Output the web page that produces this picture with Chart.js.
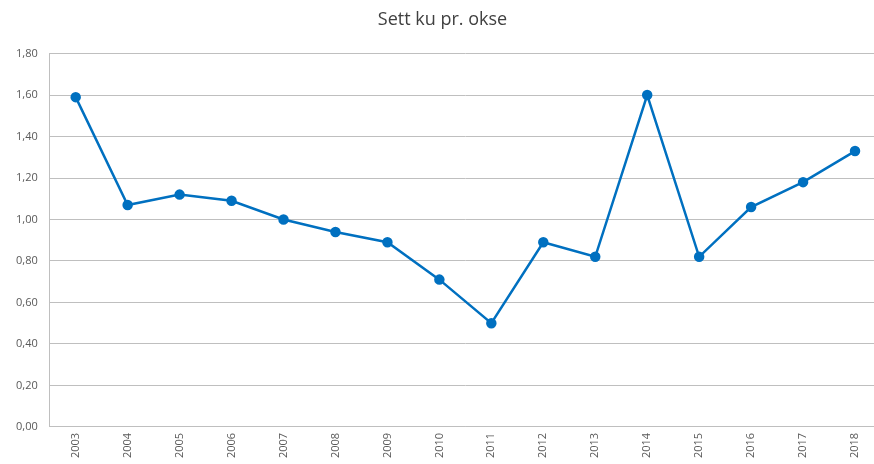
<!DOCTYPE html>
<html>
<head>
<meta charset="utf-8">
<script src="https://cdn.jsdelivr.net/npm/chart.js@4"></script>
<style>
  html, body { margin: 0; padding: 0; overflow: hidden; background: #fff; }
  #wrap { width: 898px; height: 464px; }
</style>
</head>
<body>
<div id="wrap"><canvas id="chart" width="898" height="464"></canvas></div>
<script>
// Sett ku pr. okse, per year
const years = ["2003", "2004", "2005", "2006", "2007", "2008", "2009", "2010",
               "2011", "2012", "2013", "2014", "2015", "2016", "2017", "2018"];
const ratio = [1.59, 1.07, 1.12, 1.09, 1.00, 0.94, 0.89, 0.71,
               0.50, 0.89, 0.82, 1.60, 0.82, 1.06, 1.18, 1.33];

const blue = "#0070C0";
const gridColor = "#bfbfbf";
const fontFamily = "'Open Sans', 'Liberation Sans', sans-serif";

new Chart(document.getElementById("chart").getContext("2d"), {
    type: "line",
    data: {
        labels: years,
        datasets: [{
            label: "Sett ku pr. okse",
            data: ratio,
            borderColor: blue,
            backgroundColor: blue,
            borderWidth: 2.5,
            pointRadius: 4,
            pointHoverRadius: 4,
            tension: 0,
            fill: false
        }]
    },
    options: {
        responsive: false,
        animation: false,
        layout: { padding: { left: 4, right: 17, top: 0, bottom: 0 } },
        plugins: {
            legend: { display: false },
            tooltip: { enabled: false },
            title: {
                display: true,
                text: "Sett ku pr. okse",
                color: "#404040",
                font: { family: fontFamily, size: 18, weight: "normal" },
                padding: { top: 9, bottom: 23 }
            }
        },
        scales: {
            x: {
                offset: true,
                grid: { display: false, drawTicks: false },
                border: { display: true, color: gridColor, width: 1 },
                ticks: {
                    color: "#595959",
                    font: { family: fontFamily, size: 11 },
                    minRotation: 90,
                    maxRotation: 90,
                    padding: 6,
                    autoSkip: false
                }
            },
            y: {
                min: 0,
                max: 1.8,
                grid: { color: gridColor, drawTicks: false },
                border: { display: true, color: gridColor, width: 1 },
                ticks: {
                    stepSize: 0.2,
                    color: "#595959",
                    font: { family: fontFamily, size: 11 },
                    padding: 12,
                    callback: (v) => v.toFixed(2).replace(".", ",")
                }
            }
        }
    }
});
</script>
</body>
</html>
